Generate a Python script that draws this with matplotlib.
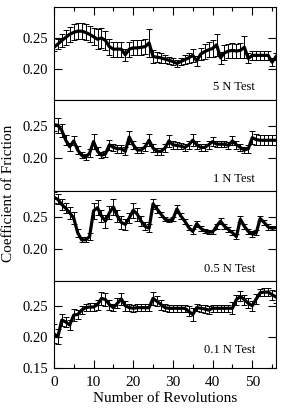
import matplotlib
matplotlib.use("Agg")
import matplotlib.pyplot as plt
from matplotlib.ticker import MultipleLocator

plt.rcParams['font.family'] = ['Liberation Serif', 'DejaVu Serif']

# Revolution index
revolutions = list(range(0, 57))

# 5 N test
cof_5n = [0.235, 0.240, 0.246, 0.251, 0.256, 0.259, 0.261, 0.261, 0.259, 0.256,
          0.252, 0.248, 0.250, 0.246, 0.236, 0.232, 0.232, 0.232, 0.223, 0.232,
          0.234, 0.234, 0.235, 0.236, 0.242, 0.220, 0.219, 0.218, 0.216, 0.214,
          0.212, 0.209, 0.212, 0.215, 0.218, 0.222, 0.213, 0.224, 0.228, 0.231,
          0.233, 0.239, 0.218, 0.226, 0.229, 0.230, 0.229, 0.230, 0.235, 0.217,
          0.222, 0.222, 0.222, 0.222, 0.222, 0.211, 0.220]
err_5n = [0.006, 0.008, 0.010, 0.012, 0.012, 0.013, 0.013, 0.013, 0.013, 0.013,
          0.014, 0.016, 0.016, 0.016, 0.013, 0.012, 0.012, 0.012, 0.010, 0.012,
          0.012, 0.012, 0.012, 0.012, 0.022, 0.010, 0.008, 0.008, 0.007, 0.006,
          0.006, 0.005, 0.006, 0.007, 0.008, 0.010, 0.008, 0.010, 0.012, 0.012,
          0.014, 0.018, 0.010, 0.012, 0.012, 0.012, 0.012, 0.012, 0.018, 0.008,
          0.007, 0.007, 0.007, 0.007, 0.007, 0.006, 0.006]

# 1 N test
cof_1n = [0.252, 0.251, 0.243, 0.228, 0.218, 0.227, 0.213, 0.205, 0.202, 0.208,
          0.226, 0.211, 0.205, 0.207, 0.221, 0.217, 0.215, 0.215, 0.211, 0.233,
          0.221, 0.213, 0.213, 0.218, 0.228, 0.216, 0.211, 0.211, 0.216, 0.227,
          0.221, 0.220, 0.219, 0.217, 0.221, 0.228, 0.221, 0.217, 0.217, 0.221,
          0.226, 0.222, 0.222, 0.222, 0.220, 0.227, 0.221, 0.217, 0.213, 0.215,
          0.232, 0.229, 0.228, 0.228, 0.228, 0.228, 0.228]
err_1n = [0.010, 0.012, 0.010, 0.008, 0.006, 0.007, 0.006, 0.005, 0.005, 0.006,
          0.011, 0.006, 0.005, 0.005, 0.008, 0.006, 0.006, 0.006, 0.006, 0.010,
          0.006, 0.005, 0.005, 0.006, 0.009, 0.006, 0.005, 0.005, 0.006, 0.009,
          0.006, 0.005, 0.005, 0.005, 0.006, 0.009, 0.006, 0.005, 0.005, 0.006,
          0.007, 0.005, 0.005, 0.005, 0.005, 0.007, 0.006, 0.005, 0.005, 0.006,
          0.010, 0.008, 0.008, 0.008, 0.008, 0.008, 0.008]

# 0.5 N test
cof_05n = [0.280, 0.277, 0.269, 0.263, 0.256, 0.248, 0.225, 0.214, 0.214, 0.219,
           0.259, 0.264, 0.251, 0.243, 0.256, 0.265, 0.251, 0.241, 0.238, 0.248,
           0.260, 0.254, 0.243, 0.235, 0.232, 0.270, 0.262, 0.254, 0.246, 0.244,
           0.246, 0.262, 0.251, 0.243, 0.233, 0.227, 0.239, 0.232, 0.228, 0.226,
           0.226, 0.235, 0.243, 0.235, 0.230, 0.225, 0.219, 0.246, 0.235, 0.227,
           0.223, 0.225, 0.247, 0.241, 0.234, 0.232, 0.233]
err_05n = [0.008, 0.008, 0.008, 0.008, 0.009, 0.010, 0.006, 0.004, 0.004, 0.005,
           0.012, 0.012, 0.010, 0.010, 0.010, 0.012, 0.010, 0.010, 0.008, 0.008,
           0.012, 0.010, 0.008, 0.006, 0.006, 0.008, 0.006, 0.004, 0.003, 0.003,
           0.003, 0.006, 0.004, 0.004, 0.004, 0.004, 0.005, 0.004, 0.003, 0.003,
           0.003, 0.004, 0.005, 0.004, 0.004, 0.004, 0.004, 0.005, 0.004, 0.004,
           0.004, 0.004, 0.004, 0.004, 0.004, 0.003, 0.003]

# 0.1 N test
cof_01n = [0.205, 0.200, 0.227, 0.224, 0.219, 0.235, 0.236, 0.243, 0.247, 0.248,
           0.248, 0.252, 0.262, 0.260, 0.252, 0.247, 0.254, 0.261, 0.250, 0.247,
           0.246, 0.247, 0.247, 0.247, 0.247, 0.262, 0.257, 0.252, 0.247, 0.246,
           0.246, 0.246, 0.246, 0.246, 0.241, 0.236, 0.247, 0.246, 0.245, 0.243,
           0.246, 0.246, 0.246, 0.246, 0.246, 0.246, 0.260, 0.265, 0.260, 0.254,
           0.250, 0.261, 0.271, 0.272, 0.272, 0.268, 0.264]
err_01n = [0.015, 0.012, 0.010, 0.008, 0.008, 0.010, 0.008, 0.006, 0.006, 0.006,
           0.006, 0.008, 0.010, 0.010, 0.008, 0.006, 0.008, 0.010, 0.008, 0.006,
           0.006, 0.006, 0.006, 0.006, 0.006, 0.010, 0.008, 0.008, 0.006, 0.006,
           0.006, 0.006, 0.006, 0.006, 0.008, 0.010, 0.006, 0.006, 0.006, 0.006,
           0.006, 0.006, 0.006, 0.006, 0.006, 0.010, 0.008, 0.008, 0.008, 0.008,
           0.008, 0.008, 0.006, 0.006, 0.006, 0.008, 0.010]

series = [(cof_5n, err_5n, "5 N Test", (0.15, 0.30), 0.07),
          (cof_1n, err_1n, "1 N Test", (0.15, 0.29), 0.07),
          (cof_05n, err_05n, "0.5 N Test", (0.15, 0.29), 0.07),
          (cof_01n, err_01n, "0.1 N Test", (0.15, 0.29), 0.14)]

fig, axes = plt.subplots(4, 1, figsize=(2.82, 4.12), dpi=100, sharex=True,
                         gridspec_kw={'height_ratios': [93, 91, 90, 87], 'hspace': 0})
fig.subplots_adjust(left=0.191, right=0.979, top=0.983, bottom=0.107)

for i, (ax, (vals, errs, label, ylim, ty)) in enumerate(zip(axes, series)):
    ax.errorbar(revolutions, vals, yerr=errs, color='black', lw=2.3,
                elinewidth=0.7, capsize=2.2, capthick=0.7)
    ax.set_xlim(0, 56)
    ax.set_ylim(*ylim)
    ax.set_yticks([0.20, 0.25] if i < 3 else [0.15, 0.20, 0.25])
    ax.yaxis.set_major_formatter(plt.FormatStrFormatter('%.2f'))
    ax.xaxis.set_major_locator(MultipleLocator(10))
    ax.xaxis.set_minor_locator(MultipleLocator(5))
    ax.tick_params(axis='y', direction='in', left=True, right=True,
                   length=6, width=0.8, labelsize=10.5, pad=4)
    ax.tick_params(axis='x', which='both', direction='in', width=0.8,
                   bottom=(i == 3), top=(i == 0), labelsize=11, pad=6)
    ax.tick_params(axis='x', which='major', length=6)
    ax.tick_params(axis='x', which='minor', length=3)
    ax.text(0.905, ty, label, transform=ax.transAxes, ha='right', va='bottom',
            fontsize=9)
    for sp in ax.spines.values():
        sp.set_linewidth(0.8)

axes[-1].set_xlabel("Number of Revolutions", fontsize=11, labelpad=2)
fig.text(0.03, 0.53, "Coefficient of Friction", rotation=90, ha='center',
         va='center', fontsize=11)

fig.savefig("out.png", dpi=100)
